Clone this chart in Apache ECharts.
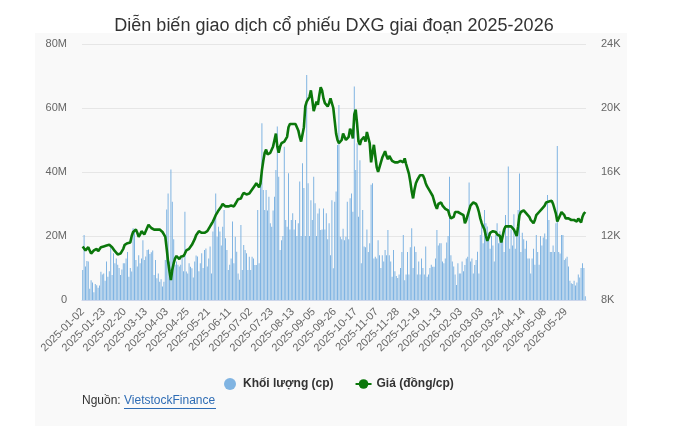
<!DOCTYPE html>
<html><head><meta charset="utf-8">
<script src="https://cdn.jsdelivr.net/npm/echarts@6/dist/echarts.min.js"></script>
<style>
html,body{margin:0;padding:0;background:#fff;}
#panel{position:absolute;left:35px;top:33px;width:592px;height:393px;background:#f9f9f9;}
#chart{position:absolute;left:0;top:0;width:691px;height:431px;}
</style></head><body>
<div id="panel"></div>
<div id="chart"></div>
<script>
const titleText = 'Diễn biến giao dịch cổ phiếu DXG giai đoạn 2025-2026';
const seriesNames = ['Khối lượng (cp)', 'Giá (đồng/cp)'];
const sourceLabel = 'Nguồn: ';
const sourceLink = 'VietstockFinance';

const dates = [
'2025-01-02','2025-01-03','2025-01-06','2025-01-07','2025-01-08','2025-01-09','2025-01-10','2025-01-13','2025-01-14','2025-01-15','2025-01-16','2025-01-17','2025-01-20','2025-01-21','2025-01-22','2025-01-23','2025-01-24',
'2025-02-03','2025-02-04','2025-02-05','2025-02-06','2025-02-07','2025-02-10','2025-02-11','2025-02-12','2025-02-13','2025-02-14','2025-02-17','2025-02-18','2025-02-19','2025-02-20','2025-02-21','2025-02-24','2025-02-25','2025-02-26','2025-02-27','2025-02-28',
'2025-03-03','2025-03-04','2025-03-05','2025-03-06','2025-03-07','2025-03-10','2025-03-11','2025-03-12','2025-03-13','2025-03-14','2025-03-17','2025-03-18','2025-03-19','2025-03-20','2025-03-21','2025-03-24','2025-03-25','2025-03-26','2025-03-27','2025-03-28','2025-03-31',
'2025-04-01','2025-04-02','2025-04-03','2025-04-04','2025-04-08','2025-04-09','2025-04-10','2025-04-11','2025-04-14','2025-04-15','2025-04-16','2025-04-17','2025-04-18','2025-04-21','2025-04-22','2025-04-23','2025-04-24','2025-04-25','2025-04-28','2025-04-29',
'2025-05-05','2025-05-06','2025-05-07','2025-05-08','2025-05-09','2025-05-12','2025-05-13','2025-05-14','2025-05-15','2025-05-16','2025-05-19','2025-05-20','2025-05-21','2025-05-22','2025-05-23','2025-05-26','2025-05-27','2025-05-28','2025-05-29','2025-05-30',
'2025-06-02','2025-06-03','2025-06-04','2025-06-05','2025-06-06','2025-06-09','2025-06-10','2025-06-11','2025-06-12','2025-06-13','2025-06-16','2025-06-17','2025-06-18','2025-06-19','2025-06-20','2025-06-23','2025-06-24','2025-06-25','2025-06-26','2025-06-27','2025-06-30',
'2025-07-01','2025-07-02','2025-07-03','2025-07-04','2025-07-07','2025-07-08','2025-07-09','2025-07-10','2025-07-11','2025-07-14','2025-07-15','2025-07-16','2025-07-17','2025-07-18','2025-07-21','2025-07-22','2025-07-23','2025-07-24','2025-07-25','2025-07-28','2025-07-29','2025-07-30','2025-07-31',
'2025-08-01','2025-08-04','2025-08-05','2025-08-06','2025-08-07','2025-08-08','2025-08-11','2025-08-12','2025-08-13','2025-08-14','2025-08-15','2025-08-18','2025-08-19','2025-08-20','2025-08-21','2025-08-22','2025-08-25','2025-08-26','2025-08-27','2025-08-28','2025-08-29',
'2025-09-03','2025-09-04','2025-09-05','2025-09-08','2025-09-09','2025-09-10','2025-09-11','2025-09-12','2025-09-15','2025-09-16','2025-09-17','2025-09-18','2025-09-19','2025-09-22','2025-09-23','2025-09-24','2025-09-25','2025-09-26','2025-09-29','2025-09-30',
'2025-10-01','2025-10-02','2025-10-03','2025-10-06','2025-10-07','2025-10-08','2025-10-09','2025-10-10','2025-10-13','2025-10-14','2025-10-15','2025-10-16','2025-10-17','2025-10-20','2025-10-21','2025-10-22','2025-10-23','2025-10-24','2025-10-27','2025-10-28','2025-10-29','2025-10-30','2025-10-31',
'2025-11-03','2025-11-04','2025-11-05','2025-11-06','2025-11-07','2025-11-10','2025-11-11','2025-11-12','2025-11-13','2025-11-14','2025-11-17','2025-11-18','2025-11-19','2025-11-20','2025-11-21','2025-11-24','2025-11-25','2025-11-26','2025-11-27','2025-11-28',
'2025-12-01','2025-12-02','2025-12-03','2025-12-04','2025-12-05','2025-12-08','2025-12-09','2025-12-10','2025-12-11','2025-12-12','2025-12-15','2025-12-16','2025-12-17','2025-12-18','2025-12-19','2025-12-22','2025-12-23','2025-12-24','2025-12-25','2025-12-26','2025-12-29','2025-12-30','2025-12-31',
'2026-01-05','2026-01-06','2026-01-07','2026-01-08','2026-01-09','2026-01-12','2026-01-13','2026-01-14','2026-01-15','2026-01-16','2026-01-19','2026-01-20','2026-01-21','2026-01-22','2026-01-23','2026-01-26','2026-01-27','2026-01-28','2026-01-29','2026-01-30',
'2026-02-02','2026-02-03','2026-02-04','2026-02-05','2026-02-06','2026-02-09','2026-02-10','2026-02-11','2026-02-12','2026-02-13','2026-02-23','2026-02-24','2026-02-25','2026-02-26','2026-02-27',
'2026-03-02','2026-03-03','2026-03-04','2026-03-05','2026-03-06','2026-03-09','2026-03-10','2026-03-11','2026-03-12','2026-03-13','2026-03-16','2026-03-17','2026-03-18','2026-03-19','2026-03-20','2026-03-23','2026-03-24','2026-03-25','2026-03-26','2026-03-27','2026-03-30','2026-03-31',
'2026-04-01','2026-04-02','2026-04-03','2026-04-06','2026-04-07','2026-04-08','2026-04-09','2026-04-10','2026-04-13','2026-04-14','2026-04-15','2026-04-16','2026-04-17','2026-04-20','2026-04-21','2026-04-22','2026-04-23','2026-04-24','2026-04-28','2026-04-29',
'2026-05-04','2026-05-05','2026-05-06','2026-05-07','2026-05-08','2026-05-11','2026-05-12','2026-05-13','2026-05-14','2026-05-15','2026-05-18','2026-05-19','2026-05-20','2026-05-21','2026-05-22','2026-05-25','2026-05-26','2026-05-27','2026-05-28','2026-05-29',
'2026-06-01','2026-06-02','2026-06-03','2026-06-04','2026-06-05','2026-06-08','2026-06-09','2026-06-10','2026-06-11','2026-06-12','2026-06-15','2026-06-16','2026-06-17','2026-06-18'
];

// Khối lượng, million shares
const volumeM = [
9.4,20.3,10.5,12.2,12.0,3.5,6.2,5.5,2.4,5.0,4.6,3.8,4.5,8.8,8.0,
8.3,6.0,12.0,7.3,9.0,16.7,7.8,14.6,11.5,13.0,11.0,10.0,7.8,9.5,11.5,
11.5,13.0,15.0,7.3,10.0,8.9,22.4,22.0,12.5,10.5,14.0,11.5,13.0,18.7,12.5,
13.6,15.6,15.8,14.4,14.9,15.5,7.8,12.5,6.8,8.3,5.7,6.5,4.2,5.7,12.5,
28.3,33.3,12.0,40.8,30.7,19.0,11.0,12.0,11.0,10.5,11.0,13.1,9.0,27.6,8.9,
8.3,11.5,10.4,9.9,7.0,12.0,13.9,13.6,9.0,11.5,14.6,10.0,15.6,16.1,10.5,
13.0,16.7,8.3,21.4,26.0,33.3,19.8,22.9,21.4,17.0,22.9,28.1,19.3,15.6,9.4,
11.0,13.0,24.5,11.5,19.8,15.1,8.3,6.3,23.4,9.4,17.2,15.6,14.6,9.4,13.5,
9.4,13.5,13.0,10.9,10.9,28.1,11.5,38.5,55.2,34.4,28.1,34.4,28.0,32.3,24.0,
22.9,28.0,32.3,40.6,54.2,38.5,15.6,18.7,20.0,47.9,25.0,22.9,39.6,22.0,25.0,
27.1,22.0,25.0,20.0,24.0,37.0,20.0,42.7,35.0,20.0,70.3,36.5,20.0,31.2,25.0,
38.5,30.2,20.0,27.0,28.6,21.9,22.0,28.6,22.0,27.1,19.0,24.0,14.0,31.2,9.9,
30.7,33.9,48.4,60.9,19.8,19.0,22.3,18.7,19.8,30.7,19.0,31.8,33.3,27.6,66.7,
40.6,49.0,26.0,43.7,11.5,28.1,16.7,16.5,22.0,15.0,17.7,36.0,36.5,13.0,13.5,
13.0,18.7,14.0,10.0,14.0,12.0,15.6,14.0,21.9,14.0,12.0,7.3,15.6,9.0,7.5,
6.9,8.0,10.0,15.0,20.3,6.2,8.0,15.0,8.0,16.5,22.4,10.0,16.7,15.0,8.0,
12.0,8.0,13.0,10.0,8.0,16.7,7.3,8.0,10.0,11.0,10.4,10.4,13.0,21.9,17.0,
17.7,17.7,12.0,11.5,13.0,18.0,20.0,38.5,14.0,12.0,10.5,8.0,4.7,11.5,8.3,
8.3,12.0,9.0,10.9,13.0,13.5,36.7,12.0,13.0,8.3,10.9,12.5,15.1,8.3,20.3,
23.4,17.7,28.1,24.0,23.0,21.0,16.0,20.0,17.0,12.0,20.3,24.0,17.7,21.5,20.0,
18.5,15.0,26.6,20.0,41.7,16.0,22.0,17.0,26.8,16.0,20.3,28.1,39.5,15.0,21.0,
19.0,16.0,18.5,13.0,13.0,8.3,13.0,16.0,11.0,20.3,15.0,11.0,20.0,17.0,19.5,
20.8,19.0,32.8,25.0,15.0,15.0,17.0,15.0,24.0,48.1,15.0,14.5,20.3,20.3,12.5,
13.0,13.5,10.5,6.0,5.2,5.0,6.0,4.5,5.5,8.0,7.0,10.0,11.5,10.0,1.2
];

// Giá, thousand VND
const priceK = [
11.35,11.25,11.1,11.2,11.3,11.1,10.9,11.0,11.1,11.15,11.2,11.05,11.1,11.3,11.4,
11.35,11.3,11.4,11.5,11.45,11.35,11.3,11.2,11.05,11.0,10.85,10.8,10.9,10.95,11.2,
11.45,11.5,11.55,11.5,11.6,12.0,12.25,12.3,12.4,12.2,11.95,12.1,12.3,12.4,12.1,
12.3,12.5,12.7,12.65,12.5,12.45,12.4,12.45,12.4,12.35,12.4,12.3,12.25,12.1,11.95,
11.2,10.4,9.8,9.25,9.9,10.3,10.6,10.75,10.65,10.55,10.7,10.6,10.75,10.9,11.1,
11.15,11.2,11.3,11.45,11.5,11.8,12.05,12.1,12.3,12.25,12.2,12.3,12.2,12.25,12.3,
12.4,12.6,12.75,12.9,13.1,13.3,13.45,13.6,13.7,13.85,14.0,13.95,13.85,13.8,13.85,
13.8,13.9,13.95,13.85,14.0,14.15,14.3,14.4,14.35,14.55,14.7,14.75,14.6,14.55,14.65,
14.75,14.9,15.0,15.15,15.3,15.25,15.05,15.3,16.1,16.7,17.2,17.4,17.1,17.0,17.2,
17.3,17.6,18.0,18.4,17.6,17.2,17.6,17.8,17.75,17.9,18.0,18.2,18.8,19.0,19.05,
19.0,19.1,19.0,18.8,18.6,18.2,17.9,17.8,18.8,20.1,20.4,20.3,20.7,21.1,20.5,
19.8,20.1,20.4,20.2,20.8,21.3,21.1,20.6,20.3,20.2,20.1,20.3,20.6,20.5,20.0,
19.2,18.4,18.0,17.8,17.7,18.0,18.4,18.2,18.0,18.1,18.2,18.7,18.5,18.1,19.6,
19.9,19.0,17.9,17.7,18.0,18.1,18.2,17.9,18.5,18.6,17.8,16.6,17.2,17.7,17.0,
16.3,16.0,16.1,16.6,16.9,17.1,17.3,17.0,16.8,17.0,16.9,16.7,16.8,16.6,16.7,
16.6,16.5,16.7,16.8,16.6,16.85,16.5,16.2,15.9,15.4,14.8,14.35,14.9,15.3,15.5,
15.6,15.8,15.9,15.8,15.6,15.3,15.1,15.0,14.8,14.7,14.5,14.2,13.9,13.7,14.0,
13.9,14.1,13.9,13.8,13.7,13.8,13.6,13.3,13.1,13.0,13.2,13.5,13.4,13.5,13.4,
13.4,13.4,13.3,12.8,13.0,13.3,13.6,13.9,14.0,14.1,14.1,14.0,13.8,13.5,13.1,
12.8,12.6,12.4,12.0,11.7,11.9,12.2,12.1,12.3,12.2,12.25,12.1,12.2,12.0,11.6,
11.6,12.4,12.6,12.5,12.6,12.7,12.6,12.5,12.4,12.2,12.0,12.6,13.3,13.5,13.6,
13.6,13.5,13.4,13.3,13.2,13.0,12.9,12.8,13.0,13.3,13.4,13.5,13.6,13.7,13.8,
13.9,14.1,14.2,14.15,14.1,14.2,14.0,13.9,13.4,12.9,13.0,13.3,13.5,13.4,13.3,
13.1,13.2,13.1,13.05,13.0,13.1,13.0,13.05,12.9,13.1,13.0,12.85,13.2,13.4,13.5
];

const FONT = "'Liberation Sans', Arial, Helvetica, sans-serif";
const chart = echarts.init(document.getElementById('chart'), null, {renderer: 'canvas'});
chart.setOption({
  animation: false,
  backgroundColor: 'transparent',
  textStyle: {fontFamily: FONT},
  title: {
    text: titleText, left: 329, textAlign: 'center', top: 12,
    textStyle: {fontSize: 18, fontWeight: 'normal', color: '#333333', fontFamily: FONT}
  },
  grid: {left: 82, right: 105, top: 44, bottom: 131},
  legend: {
    left: 219, top: 373, itemWidth: 16, itemHeight: 12, itemGap: 21,
    textStyle: {fontSize: 12, fontWeight: 'bold', color: '#333333', fontFamily: FONT},
    data: [{name: seriesNames[0], icon: 'circle'}, {name: seriesNames[1]}]
  },
  xAxis: {
    type: 'category', data: dates, boundaryGap: true,
    axisLine: {lineStyle: {color: '#ccd6eb'}},
    axisTick: {interval: 14, alignWithLabel: true, length: 8, lineStyle: {color: '#ccd6eb'}},
    axisLabel: {interval: 14, rotate: 45, fontSize: 11, color: '#666666', margin: 10, fontFamily: FONT}
  },
  yAxis: [
    {type: 'value', min: 0, max: 80, interval: 20,
     axisLabel: {formatter: v => v === 0 ? '0' : v + 'M', color: '#666666', fontSize: 11, margin: 15, fontFamily: FONT},
     splitLine: {lineStyle: {color: '#e6e6e6'}}, axisLine: {show: false}, axisTick: {show: false}},
    {type: 'value', position: 'right', min: 8, max: 24, interval: 4,
     axisLabel: {formatter: v => v + 'K', color: '#666666', fontSize: 11, margin: 15, fontFamily: FONT},
     splitLine: {show: false}, axisLine: {show: false}, axisTick: {show: false}}
  ],
  series: [
    {name: seriesNames[0], type: 'bar', yAxisIndex: 0, data: volumeM, barWidth: 1,
     itemStyle: {color: '#80b4e2'}},
    {name: seriesNames[1], type: 'line', yAxisIndex: 1, data: priceK, symbol: 'circle', symbolSize: 8,
     showSymbol: false, lineStyle: {color: '#0b770b', width: 2.6}, itemStyle: {color: '#0b770b'}, z: 3}
  ],
  graphic: [
    {type: 'text', left: 82, top: 395,
     style: {text: sourceLabel, fill: '#333333', font: '12px ' + FONT}},
    {type: 'text', left: 124, top: 395,
     style: {text: sourceLink, fill: '#2f6db5', font: '12px ' + FONT}},
    {type: 'line', shape: {x1: 124, y1: 408.5, x2: 216, y2: 408.5}, style: {stroke: '#2f6db5', lineWidth: 1}}
  ]
});
</script>
</body></html>
